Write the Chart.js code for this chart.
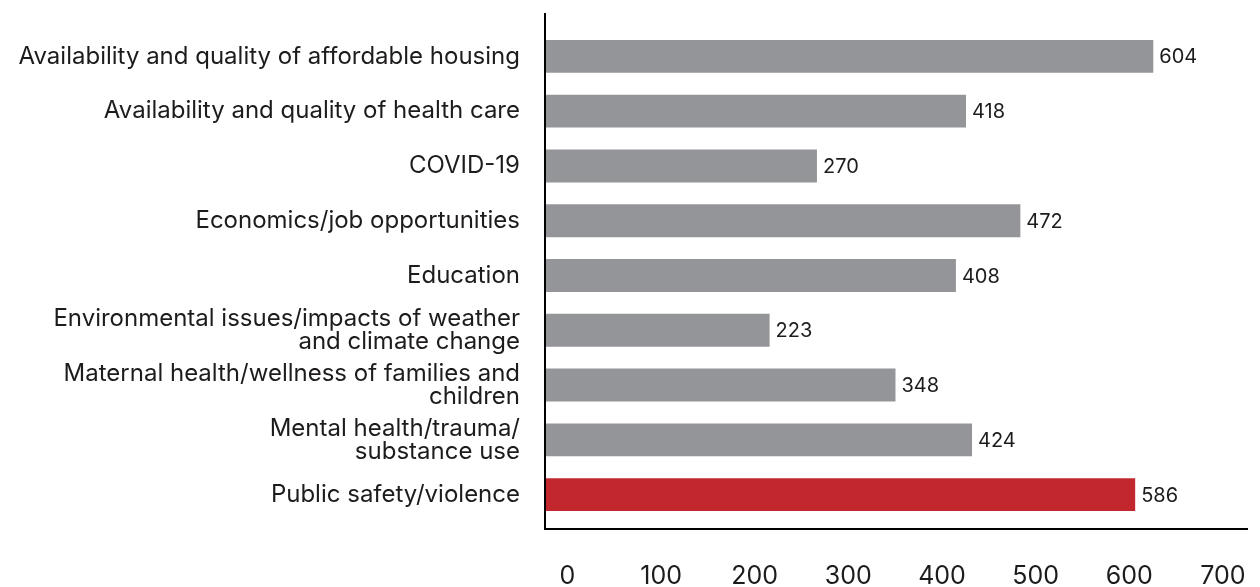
<!DOCTYPE html>
<html>
<head>
<meta charset="utf-8">
<script src="https://cdn.jsdelivr.net/npm/chart.js@4"></script>
<style>
    html, body { margin: 0; padding: 0; background: #ffffff; }
    #wrap { width: 1260px; height: 587px; }
</style>
</head>
<body>
<div id="wrap"><canvas id="issuesChart" width="1260" height="587"></canvas></div>
<script>
const issueLabels = [
    "Availability and quality of affordable housing",
    "Availability and quality of health care",
    "COVID-19",
    "Economics/job opportunities",
    "Education",
    ["Environmental issues/impacts of weather", "and climate change"],
    ["Maternal health/wellness of families and", "children"],
    ["Mental health/trauma/", "substance use"],
    "Public safety/violence"
]
const issueCounts = [604, 418, 270, 472, 408, 223, 348, 424, 586]
const barColors = ["#939598", "#939598", "#939598", "#939598", "#939598", "#939598", "#939598", "#939598", "#C1272D"]
const axisTicks = [0, 100, 200, 300, 400, 500, 600, 700]

const textColor = "#1E1B1C"
const fontFamily = "Inter, 'Open Sans', sans-serif"

// value printed just right of each bar
const valueLabels = {
    id: "valueLabels",
    afterDatasetsDraw(chart) {
        const ctx = chart.ctx
        const meta = chart.getDatasetMeta(0)
        ctx.save()
        ctx.font = `20px ${fontFamily}`
        ctx.fillStyle = textColor
        ctx.textAlign = "left"
        ctx.textBaseline = "middle"
        meta.data.forEach((bar, i) => {
            ctx.fillText(String(issueCounts[i]), bar.x + 6, bar.y + 1)
        })
        ctx.restore()
    }
}

// the two axis lines run a little past the plot area
const axisLines = {
    id: "axisLines",
    afterDraw(chart) {
        const {ctx, chartArea} = chart
        ctx.save()
        ctx.strokeStyle = "#000000"
        ctx.lineWidth = 2
        ctx.beginPath()
        ctx.moveTo(chartArea.left, chartArea.top - 16)
        ctx.lineTo(chartArea.left, chartArea.bottom + 8)
        ctx.moveTo(chartArea.left - 1, chartArea.bottom + 7)
        ctx.lineTo(chartArea.right - 2, chartArea.bottom + 7)
        ctx.stroke()
        ctx.restore()
    }
}

new Chart(document.getElementById("issuesChart"), {
    type: "bar",
    data: {
        labels: issueLabels,
        datasets: [{
            data: issueCounts,
            backgroundColor: barColors,
            borderWidth: 0,
            categoryPercentage: 1,
            barPercentage: 0.6
        }]
    },
    options: {
        indexAxis: "y",
        responsive: false,
        animation: false,
        layout: {
            padding: {top: 29, right: 10, left: 0, bottom: 0}
        },
        scales: {
            x: {
                display: false,
                min: 0,
                max: 700
            },
            xTicks: {
                type: "linear",
                axis: "x",
                position: "bottom",
                min: -24,
                max: 729,
                grid: {display: false, drawTicks: false},
                border: {display: false},
                afterBuildTicks: (axis) => {
                    axis.ticks = axisTicks.map((v) => ({value: v}))
                },
                afterFit: (axis) => {
                    axis.height = 65
                    axis.paddingLeft = 0
                    axis.paddingRight = 0
                },
                ticks: {
                    padding: 39,
                    color: textColor,
                    maxRotation: 0,
                    autoSkip: false,
                    font: {size: 25, family: fontFamily}
                }
            },
            y: {
                grid: {display: false, drawTicks: false},
                border: {display: false},
                afterFit: (axis) => {
                    axis.width = 545
                    axis.paddingTop = 0
                    axis.paddingBottom = 0
                },
                ticks: {
                    padding: 25,
                    color: textColor,
                    autoSkip: false,
                    font: {size: 24, family: fontFamily, lineHeight: 0.96}
                }
            }
        },
        plugins: {
            legend: {display: false},
            tooltip: {enabled: false}
        }
    },
    plugins: [valueLabels, axisLines]
})
</script>
</body>
</html>
